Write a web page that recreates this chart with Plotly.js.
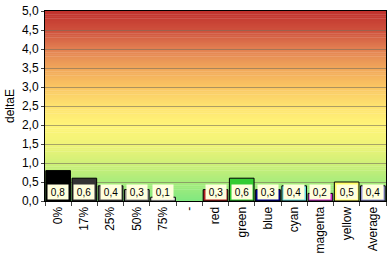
<!DOCTYPE html>
<html><head><meta charset="utf-8">
<script src="https://cdn.plot.ly/plotly-3.0.1.min.js"></script>
<style>html,body{margin:0;padding:0;background:#fff}#chart{width:390px;height:257px}</style>
</head><body><div id="chart"></div>
<script>
const categories = ['0%','17%','25%','50%','75%','-','red','green','blue','cyan','magenta','yellow','Average'];
const values = [0.8,0.6,0.4,0.3,0.1,null,0.3,0.6,0.3,0.4,0.2,0.5,0.4];
const labels = ['0,8','0,6','0,4','0,3','0,1','','0,3','0,6','0,3','0,4','0,2','0,5','0,4'];
const barColors = ['#000000','#333333','#555555','#888888','#dddddd','#ffffff','#b02020','#33cc33','#000099','#66dddd','#cc33cc','#ffff66','#9999dd'];

// background gradient stops (value on y axis, colour)
const stops = [[0,[128,232,128]],[0.5,[168,236,124]],[1.0,[208,240,120]],[1.5,[240,244,120]],[2.0,[255,244,120]],[2.5,[253,226,112]],[3.0,[250,198,98]],[3.5,[240,166,90]],[4.0,[226,128,82]],[4.5,[206,80,60]],[5.0,[192,48,44]]];
function colAt(v){
  for(let i=0;i<stops.length-1;i++){
    const a=stops[i],b=stops[i+1];
    if(v>=a[0]&&v<=b[0]){const t=(v-a[0])/(b[0]-a[0]);
      const c=a[1].map((x,k)=>Math.round(x+(b[1][k]-x)*t));return 'rgb('+c.join(',')+')';}
  }
  return 'rgb('+stops[stops.length-1][1].join(',')+')';
}
const shapes=[];
const N=100;
for(let i=0;i<N;i++){
  const y0=5*i/N,y1=5*(i+1)/N;
  shapes.push({type:'rect',xref:'paper',yref:'y',x0:0,x1:1,y0:y0,y1:y1+0.01,fillcolor:colAt((y0+y1)/2),line:{width:0},layer:'below'});
}
const annotations=[];
categories.forEach((c,i)=>{
  if(labels[i]) annotations.push({x:c,y:0.25,xref:'x',yref:'y',text:labels[i],showarrow:false,
    bgcolor:'#ffffdd',font:{family:'Liberation Sans, Arial',size:10,color:'#000'},borderpad:1,width:18,height:12});
});
const trace={type:'bar',x:categories,y:values,marker:{color:barColors,line:{color:'#000',width:1}},hoverinfo:'none'};
const layout={
  width:390,height:257,margin:{l:45,r:4,t:11,b:56},
  paper_bgcolor:'#ffffff',plot_bgcolor:'rgba(0,0,0,0)',
  separators:',.',
  bargap:0.06,showlegend:false,
  font:{family:'Liberation Sans, Arial',color:'#000'},
  xaxis:{type:'category',tickangle:-90,tickfont:{size:12},ticks:'outside',ticklen:4,tickson:'boundaries',
    showline:true,linecolor:'#000',linewidth:1,mirror:true,showgrid:false,range:[-0.5,12.5]},
  yaxis:{range:[0,5],dtick:0.5,tickformat:'.1f',tickfont:{size:12},ticks:'outside',ticklen:3,
    showline:true,linecolor:'#000',linewidth:1,mirror:true,gridcolor:'rgba(120,110,90,0.6)',gridwidth:1,
    title:{text:'deltaE',font:{size:12},standoff:4},zeroline:false},
  shapes:shapes,annotations:annotations
};
Plotly.newPlot('chart',[trace],layout,{staticPlot:true});
</script></body></html>
